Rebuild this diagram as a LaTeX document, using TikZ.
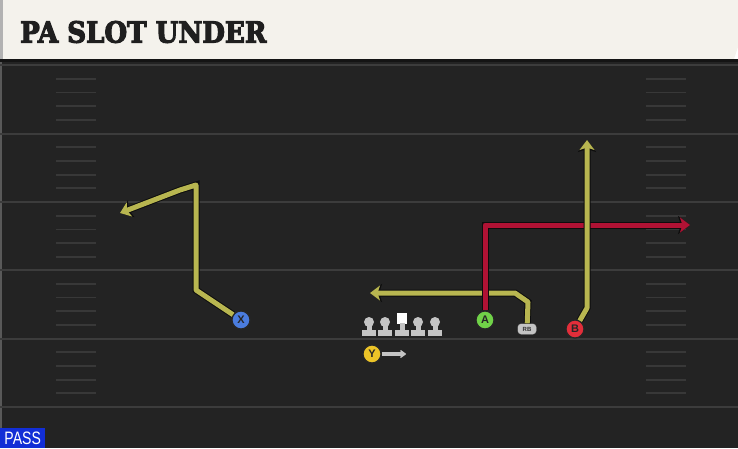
\documentclass[tikz,border=0pt]{standalone}
\usepackage{fontspec}
\setmainfont{Liberation Sans}
\newfontfamily\titlefont{DejaVu Serif}[BoldFeatures={FakeBold=4}]
\usetikzlibrary{arrows.meta, positioning}
\definecolor{field}{RGB}{35,35,35}
\definecolor{yardline}{RGB}{60,60,60}
\definecolor{hashmark}{RGB}{56,56,56}
\definecolor{banner}{RGB}{244,242,236}
\definecolor{routeyellow}{RGB}{184,182,80}
\definecolor{routered}{RGB}{176,18,52}
\definecolor{xblue}{RGB}{74,124,222}
\definecolor{agreen}{RGB}{112,210,72}
\definecolor{bred}{RGB}{226,46,58}
\definecolor{yyellow}{RGB}{236,196,40}
\definecolor{linegray}{RGB}{196,196,196}
\definecolor{passblue}{RGB}{18,46,214}

\begin{document}
\begin{tikzpicture}[x=1pt, y=-1pt,
    player/.style={circle, draw=black!85, line width=1.2pt, inner sep=0pt, minimum size=18pt,
      font=\bfseries\fontsize{11}{11}\selectfont, text=black!85},
    route/.style={routeyellow, line width=5pt, line join=round,
      -{Stealth[length=10pt, width=15pt, inset=2.5pt]},
      preaction={draw=black!95, line width=7pt, -{Stealth[length=12pt, width=18pt, inset=3pt]}}},
    hotroute/.style={route, routered}]
    \useasboundingbox (0,0) rectangle (738,448);

    % field
    \fill[field] (0,59) rectangle (738,448);
    \fill[black!65] (0,59) rectangle (2,448);
    \foreach \y in {65,133.5,202,270,338.5,407}
      \draw[yardline, line width=2pt] (0,\y) -- (738,\y);
    \foreach \y in {65,133.5,202,270,338.5}
      \foreach \k in {1,...,4} {
        \draw[hashmark, line width=1.8pt] (56,\y+\k*13.7) -- (96,\y+\k*13.7);
        \draw[hashmark, line width=1.8pt] (646,\y+\k*13.7) -- (686,\y+\k*13.7);
      }

    % banner
    \fill[banner] (0,0) -- (738,0) -- (738,47) -- (734,59) -- (0,59) -- cycle;
    \fill[black!30] (0,0) rectangle (3,59);
    \fill[black!92] (0,59) rectangle (738,62);
    \node[anchor=west, inner sep=0pt, text=black!88,
      font=\titlefont\bfseries\fontsize{29}{29}\selectfont] (title) at (20,32)
      {\scalebox{0.9}[1]{PA SLOT UNDER}};

    % line
    \foreach \x/\name in {369/lt,385/lg,418/rg,435/rt} {
      \fill[linegray] (\x,322) circle (5pt);
      \fill[linegray] (\x-2.5,322) rectangle (\x+2.5,332);
      \fill[linegray] (\x-7,330) rectangle (\x+7,335.5);
      \coordinate (\name) at (\x,328);
    }
    \fill[white] (397,313) rectangle (407,323.5);
    \fill[linegray] (399.5,323) rectangle (404.5,332);
    \fill[linegray] (395,330) rectangle (409,335.5);
    \coordinate (c) at (402,328);

    % players
    \node[player, fill=xblue] (X) at (241,320) {X};
    \node[player, fill=agreen] (A) at (485,320) {A};
    \node[player, fill=bred] (B) at (575,329) {B};
    \node[player, fill=yyellow] (Y) at (372,354) {Y};
    \node[fill=linegray, draw=black!85, rounded corners=3.5pt, minimum width=19pt, minimum height=11pt,
      inner sep=0pt, font=\bfseries\fontsize{6}{6}\selectfont, text=black!80] (RB) at (527,329) {RB};

    % routes
    \coordinate (xbreak) at (196,290);
    \coordinate (xtop) at (196,185);
    \coordinate (xbend) at (180,190);
    \coordinate (xend) at (120,213);
    \draw[route] (X) -- (xbreak) -- (xtop) -- (xbend) -- (xend);

    \coordinate (rbup) at (528,302);
    \coordinate (rbbend) at (515,293);
    \coordinate (rbend) at (370,293);
    \draw[route] (RB) -- (rbup) -- (rbbend) -- (rbend);

    \coordinate (aup) at (485,225);
    \coordinate (aend) at (690,225);
    \draw[hotroute] (A) -- (aup) -- (aend);

    \coordinate (bbend) at (587,308);
    \coordinate (bend) at (587,140);
    \draw[route] (B) -- (bbend) -- (bend);

    \coordinate (yblock) at (406,354);
    \draw[linegray, line width=4pt, -{Stealth[round, length=7pt, width=10pt]}] (Y) -- (yblock);

    % play type
    \node[fill=passblue, text=white, anchor=south west, minimum width=45pt, minimum height=20pt,
      inner sep=0pt, font=\fontsize{18}{18}\selectfont] (play) at (0,448) {\scalebox{0.78}[1]{PASS}};
\end{tikzpicture}
\end{document}
